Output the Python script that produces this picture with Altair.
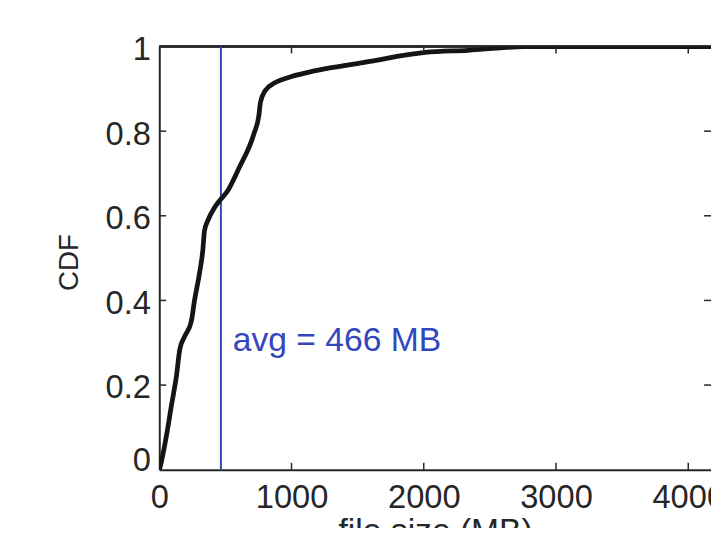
import altair as alt
import pandas as pd

# CDF of file size (MB)
sizes = [0, 5, 55, 92, 130, 155, 192, 242, 267, 304, 329, 342, 366, 417, 454, 515,
         603, 716, 753, 765, 802, 877, 977, 1127, 1301, 1540, 2012, 2334, 2760, 4172]
cdf = [0.0, 0.005, 0.082, 0.152, 0.222, 0.284, 0.315, 0.350, 0.401, 0.464, 0.518, 0.565,
       0.588, 0.619, 0.635, 0.658, 0.713, 0.794, 0.837, 0.868, 0.896, 0.915, 0.927,
       0.939, 0.950, 0.962, 0.986, 0.991, 0.9995, 1.0]

avg_mb = 466
avg_label = "avg = 466 MB"
label_y = 0.28

x_ticks = [0, 1000, 2000, 3000, 4000]
y_ticks = [0, 0.2, 0.4, 0.6, 0.8, 1]
x_inner_ticks = [1000, 2000, 3000, 4000]
y_inner_ticks = [0.2, 0.4, 0.6, 0.8]

W, H = 558, 428
FONT = "Liberation Sans"
AX = "#262626"
BLUE = "#3347bd"

df = pd.DataFrame({"size": sizes, "cdf": cdf})

xs = alt.Scale(domain=[0, 4172], nice=False, zero=False)
ys = alt.Scale(domain=[0, 1], nice=False)

x_axis = alt.Axis(values=x_ticks, format="d", ticks=False, grid=False, domainColor=AX, domainWidth=2,
                  labelFont=FONT, labelFontSize=33, labelColor=AX, labelBaseline="alphabetic",
                  labelPadding=38, labelFlush=False, labelOverlap=False,
                  title="file size (MB)", titleFont=FONT, titleFontSize=34, titleFontWeight="normal",
                  titleColor=AX, titleX=279, titleY=73, titleAlign="center", titleBaseline="alphabetic")
y_axis = alt.Axis(values=y_ticks, format="~g", ticks=False, grid=False, domainColor=AX, domainWidth=2,
                  labelFont=FONT, labelFontSize=33, labelColor=AX, labelBaseline="alphabetic",
                  labelPadding=9, labelFlush=False, labelOverlap=False,
                  labelOffset={"condition": {"test": "datum.value === 0", "value": 1}, "value": 13},
                  title="CDF", titleFont=FONT, titleFontSize=28, titleFontWeight="normal",
                  titleColor=AX, titleX=-83, titleY=218, titleAngle=-90, titleAlign="center",
                  titleBaseline="alphabetic")

curve = alt.Chart(df).mark_line(color="#151515", strokeWidth=4.8, clip=True,
                                interpolate="monotone").encode(
    x=alt.X("size:Q", scale=xs, axis=x_axis),
    y=alt.Y("cdf:Q", scale=ys, axis=y_axis),
)

avg_df = pd.DataFrame({"avg": [avg_mb], "label": [avg_label], "ly": [label_y]})
avg_rule = alt.Chart(avg_df).mark_rule(color=BLUE, strokeWidth=2).encode(
    x=alt.X("avg:Q", scale=xs)
)
avg_text = alt.Chart(avg_df).mark_text(color=BLUE, font=FONT, fontSize=34, align="left",
                                       baseline="alphabetic", dx=12).encode(
    x=alt.X("avg:Q", scale=xs), y=alt.Y("ly:Q", scale=ys), text="label:N"
)

xt = pd.DataFrame({"t": x_inner_ticks})
yt = pd.DataFrame({"t": y_inner_ticks})
bottom_ticks = alt.Chart(xt).mark_rule(color=AX, strokeWidth=1.5).encode(
    x=alt.X("t:Q", scale=xs), y=alt.value(H), y2=alt.value(H - 7))
top_ticks = alt.Chart(xt).mark_rule(color=AX, strokeWidth=1.5).encode(
    x=alt.X("t:Q", scale=xs), y=alt.value(0), y2=alt.value(7))
left_ticks = alt.Chart(yt).mark_rule(color=AX, strokeWidth=1.5).encode(
    y=alt.Y("t:Q", scale=ys), x=alt.value(0), x2=alt.value(7))
right_ticks = alt.Chart(yt).mark_rule(color=AX, strokeWidth=1.5).encode(
    y=alt.Y("t:Q", scale=ys), x=alt.value(W), x2=alt.value(W - 7))
top_line = alt.Chart(xt).mark_rule(color=AX, strokeWidth=2).encode(
    y=alt.value(0), x=alt.value(0), x2=alt.value(W))

chart = alt.layer(top_line, avg_rule, curve, avg_text,
                  bottom_ticks, top_ticks, left_ticks, right_ticks).properties(
    width=W, height=H,
    autosize=alt.AutoSizeParams(type="none"),
    padding={"left": 153, "top": 36, "right": 0, "bottom": 56},
    background="white",
).configure_view(stroke=None)

chart.save("out.html", embed_options={"renderer": "svg", "actions": False})
